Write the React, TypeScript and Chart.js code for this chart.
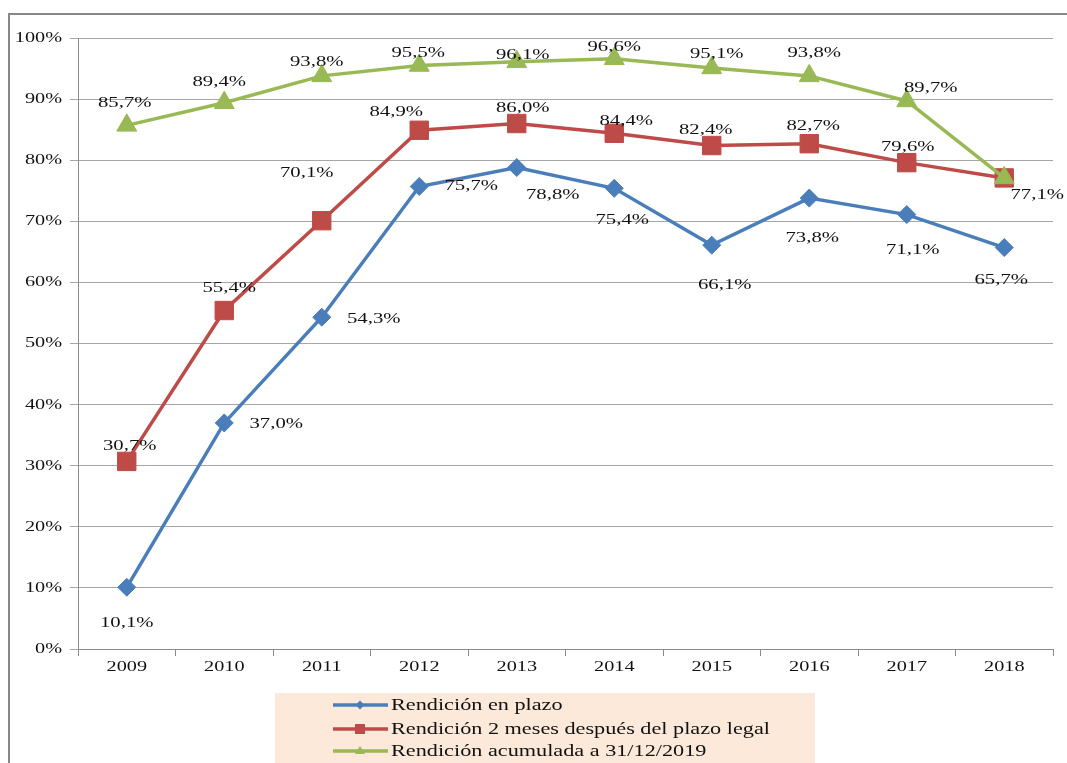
import React, { useEffect, useRef } from "react";
import { Chart, registerables } from "chart.js";

Chart.register(...registerables);

const years = ["2009", "2010", "2011", "2012", "2013", "2014", "2015", "2016", "2017", "2018"];
const enPlazo = [10.1, 37.0, 54.3, 75.7, 78.8, 75.4, 66.1, 73.8, 71.1, 65.7];
const dosMeses = [30.7, 55.4, 70.1, 84.9, 86.0, 84.4, 82.4, 82.7, 79.6, 77.1];
const acumulada = [85.7, 89.4, 93.8, 95.5, 96.1, 96.6, 95.1, 93.8, 89.7, 77.1];
const yTicks = [0, 10, 20, 30, 40, 50, 60, 70, 80, 90, 100];
const seriesNames = [
  "Rendición en plazo",
  "Rendición 2 meses después del plazo legal",
  "Rendición acumulada a 31/12/2019",
];

// label offsets (pixels) relative to each point: [dx, dy]; null = no label
const blueOffsets: ([number, number] | null)[] = [
  [0, 36], [52, 1], [52, 2], [52, 0], [36, 28], [8, 32], [13, 40], [3, 40], [6, 35], [-3, 32],
];
const redOffsets: ([number, number] | null)[] = [
  [3, -15], [5, -22], [-15, -48], [-23, -18], [6, -15], [12, -12], [-6, -15], [4, -18], [1, -16], [33, 17],
];
const greenOffsets: ([number, number] | null)[] = [
  [-2, -22], [-5, -21], [-5, -14], [-1, -12], [6, -7], [0, -12], [5, -14], [5, -23], [24, -13], null,
];

const BLUE = "#4A7EBB";
const RED = "#BE4B48";
const GREEN = "#98B954";
const SERIF = "'Liberation Serif', 'Times New Roman', serif";

function stretchText(
  ctx: CanvasRenderingContext2D,
  text: string,
  x: number,
  y: number,
  size: number,
  sx: number,
  align: CanvasTextAlign
) {
  ctx.save();
  ctx.font = `${size}px ${SERIF}`;
  ctx.fillStyle = "#111";
  ctx.textAlign = align;
  ctx.textBaseline = "middle";
  ctx.translate(x, y);
  ctx.scale(sx, 1);
  ctx.fillText(text, 0, 0);
  ctx.restore();
}

const fmt = (v: number) => v.toFixed(1).replace(".", ",") + "%";

const customPlugin = {
  id: "custom",
  beforeDraw(chart: any) {
    const ctx = chart.ctx as CanvasRenderingContext2D;
    ctx.save();
    ctx.fillStyle = "#fff";
    ctx.fillRect(0, 0, chart.width, chart.height);
    ctx.strokeStyle = "#878787";
    ctx.lineWidth = 2;
    ctx.beginPath();
    ctx.moveTo(9, chart.height + 5);
    ctx.lineTo(9, 14);
    ctx.lineTo(chart.width + 5, 14);
    ctx.stroke();
    ctx.restore();
  },
  afterDraw(chart: any) {
    const ctx = chart.ctx as CanvasRenderingContext2D;
    const yScale = chart.scales.y;
    const xScale = chart.scales.x;
    // y tick labels
    yTicks.forEach((t) => {
      stretchText(ctx, t + "%", 62, yScale.getPixelForValue(t), 15, 1.35, "right");
    });
    // x tick labels
    years.forEach((yr, i) => {
      stretchText(ctx, yr, xScale.getPixelForValue(i), 667, 15, 1.35, "center");
    });
    // data labels
    const offsets = [blueOffsets, redOffsets, greenOffsets];
    const datas = [enPlazo, dosMeses, acumulada];
    datas.forEach((arr, di) => {
      const meta = chart.getDatasetMeta(di);
      arr.forEach((v, i) => {
        const off = offsets[di][i];
        if (!off) return;
        const el = meta.data[i];
        stretchText(ctx, fmt(v), el.x + off[0], el.y + off[1], 15, 1.38, "center");
      });
    });
    // legend
    ctx.save();
    ctx.fillStyle = "#FDE9D9";
    ctx.fillRect(275, 693, 540, 80);
    const colors = [BLUE, RED, GREEN];
    const styles = ["rectRot", "rect", "triangle"];
    const rowsY = [705, 729, 751];
    colors.forEach((c, i) => {
      const y = rowsY[i];
      ctx.strokeStyle = c;
      ctx.lineWidth = 3.5;
      ctx.beginPath();
      ctx.moveTo(333, y);
      ctx.lineTo(388, y);
      ctx.stroke();
      ctx.fillStyle = c;
      ctx.beginPath();
      if (styles[i] === "rectRot") {
        ctx.moveTo(360, y - 4.5);
        ctx.lineTo(364.5, y);
        ctx.lineTo(360, y + 4.5);
        ctx.lineTo(355.5, y);
        ctx.closePath();
      } else if (styles[i] === "rect") {
        ctx.rect(355, y - 5, 10, 10);
      } else {
        ctx.moveTo(360, y - 5);
        ctx.lineTo(365, y + 3);
        ctx.lineTo(355, y + 3);
        ctx.closePath();
      }
      ctx.fill();
      stretchText(ctx, seriesNames[i], 391, y, 17.5, 1.27, "left");
    });
    ctx.restore();
  },
};

export default function App() {
  const ref = useRef<HTMLCanvasElement | null>(null);
  useEffect(() => {
    document.body.style.margin = "0";
    if (!ref.current) return;
    const chart = new Chart(ref.current, {
      type: "line",
      data: {
        labels: years,
        datasets: [
          {
            label: seriesNames[0],
            data: enPlazo,
            borderColor: BLUE,
            backgroundColor: BLUE,
            borderWidth: 3.5,
            pointStyle: "rectRot",
            pointRadius: 9,
            pointBorderWidth: 1,
            order: 2,
          },
          {
            label: seriesNames[1],
            data: dosMeses,
            borderColor: RED,
            backgroundColor: RED,
            borderWidth: 3.5,
            pointStyle: "rect",
            pointRadius: 13,
            pointBorderWidth: 1,
            order: 1,
          },
          {
            label: seriesNames[2],
            data: acumulada,
            borderColor: GREEN,
            backgroundColor: GREEN,
            borderWidth: 3.5,
            pointStyle: "triangle",
            pointRadius: 11.5,
            pointBorderWidth: 1,
            order: 0,
          },
        ],
      },
      options: {
        responsive: false,
        animation: false,
        layout: { padding: { left: 0, right: 10, top: 38, bottom: 84 } },
        plugins: { legend: { display: false }, tooltip: { enabled: false } },
        scales: {
          x: {
            offset: true,
            grid: {
              offset: true,
              drawOnChartArea: false,
              drawTicks: true,
              tickLength: 7,
              color: "#8c8c8c",
            },
            border: { color: "#8c8c8c", width: 1 },
            ticks: { color: "transparent", font: { size: 15 } },
            afterFit: (s: any) => {
              s.height = 30;
            },
          },
          y: {
            min: 0,
            max: 100,
            ticks: { stepSize: 10, color: "transparent", font: { size: 15 } },
            grid: { color: "#a6a6a6", tickLength: 8, lineWidth: 1 },
            border: { color: "#8c8c8c", width: 1 },
            afterFit: (s: any) => {
              s.width = 78;
            },
          },
        },
      },
      plugins: [customPlugin],
    });
    return () => chart.destroy();
  }, []);
  return <canvas ref={ref} width={1067} height={763} style={{ display: "block" }} />;
}
